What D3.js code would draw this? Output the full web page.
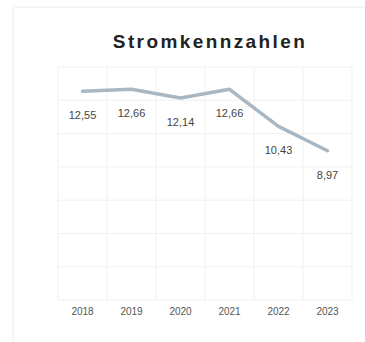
<!DOCTYPE html>
<html><head><meta charset="utf-8">
<script src="https://cdn.jsdelivr.net/npm/d3@7"></script>
<style>body{margin:0;background:#fff}svg{display:block}</style>
</head><body>
<svg id="c" width="365" height="342"></svg>
<script>
const years = ["2018","2019","2020","2021","2022","2023"];
const values = [12.55, 12.66, 12.14, 12.66, 10.43, 8.97];
const yTicks = [0,2,4,6,8,10,12,14];
const title = "Stromkennzahlen";

const svg = d3.select("#c");
const defs = svg.append("defs");
const f = defs.append("filter").attr("id","sh").attr("x","-10%").attr("y","-10%").attr("width","120%").attr("height","120%");
f.append("feDropShadow").attr("dx",0).attr("dy",0).attr("stdDeviation",1.5).attr("flood-color","#000").attr("flood-opacity",0.15);

svg.append("rect").attr("x",14).attr("y",8).attr("width",360).attr("height",340)
  .attr("fill","#fff").attr("filter","url(#sh)");

const x = d3.scaleBand().domain(years).range([58,352]);
const y = d3.scaleLinear().domain([0,14]).range([300,67]);

const g = svg.append("g");
g.selectAll("line.h").data(yTicks).join("line")
  .attr("x1",58).attr("x2",352).attr("y1",d=>y(d)).attr("y2",d=>y(d))
  .attr("stroke","#f0f0f0").attr("stroke-width",1);
const bounds = years.map(d=>x(d)).concat([x.range()[1]]);
g.selectAll("line.v").data(bounds).join("line")
  .attr("x1",d=>d).attr("x2",d=>d).attr("y1",y(14)).attr("y2",y(0))
  .attr("stroke","#f0f0f0").attr("stroke-width",1);

const xa = d3.axisBottom(x).tickSize(0).tickPadding(8);
const ax = svg.append("g").attr("transform",`translate(0,${y(0)})`).call(xa);
ax.select(".domain").remove();
ax.selectAll("text").attr("font-family","Liberation Sans, Arial, sans-serif").attr("font-size",10).attr("fill","#555");

const cx = d => x(d) + x.bandwidth()/2;
const line = d3.line().x((d,i)=>cx(years[i])).y(d=>y(d));
svg.append("path").datum(values).attr("d",line).attr("fill","none")
  .attr("stroke","#a9b7c2").attr("stroke-width",3.5).attr("stroke-linejoin","round").attr("stroke-linecap","round");

svg.selectAll("text.v").data(values).join("text")
  .attr("x",(d,i)=>cx(years[i])).attr("y",d=>y(d)+28)
  .attr("text-anchor","middle").attr("font-family","Liberation Sans, Arial, sans-serif")
  .attr("font-size",11).attr("fill","#444")
  .text(d=>d.toFixed(2).replace(".",","));

svg.append("text").attr("x",210).attr("y",48).attr("text-anchor","middle")
  .attr("font-family","Liberation Sans, Arial, sans-serif").attr("font-weight","bold")
  .attr("font-size",19).attr("letter-spacing",2.4).attr("fill","#222").text(title);
</script>
</body></html>
